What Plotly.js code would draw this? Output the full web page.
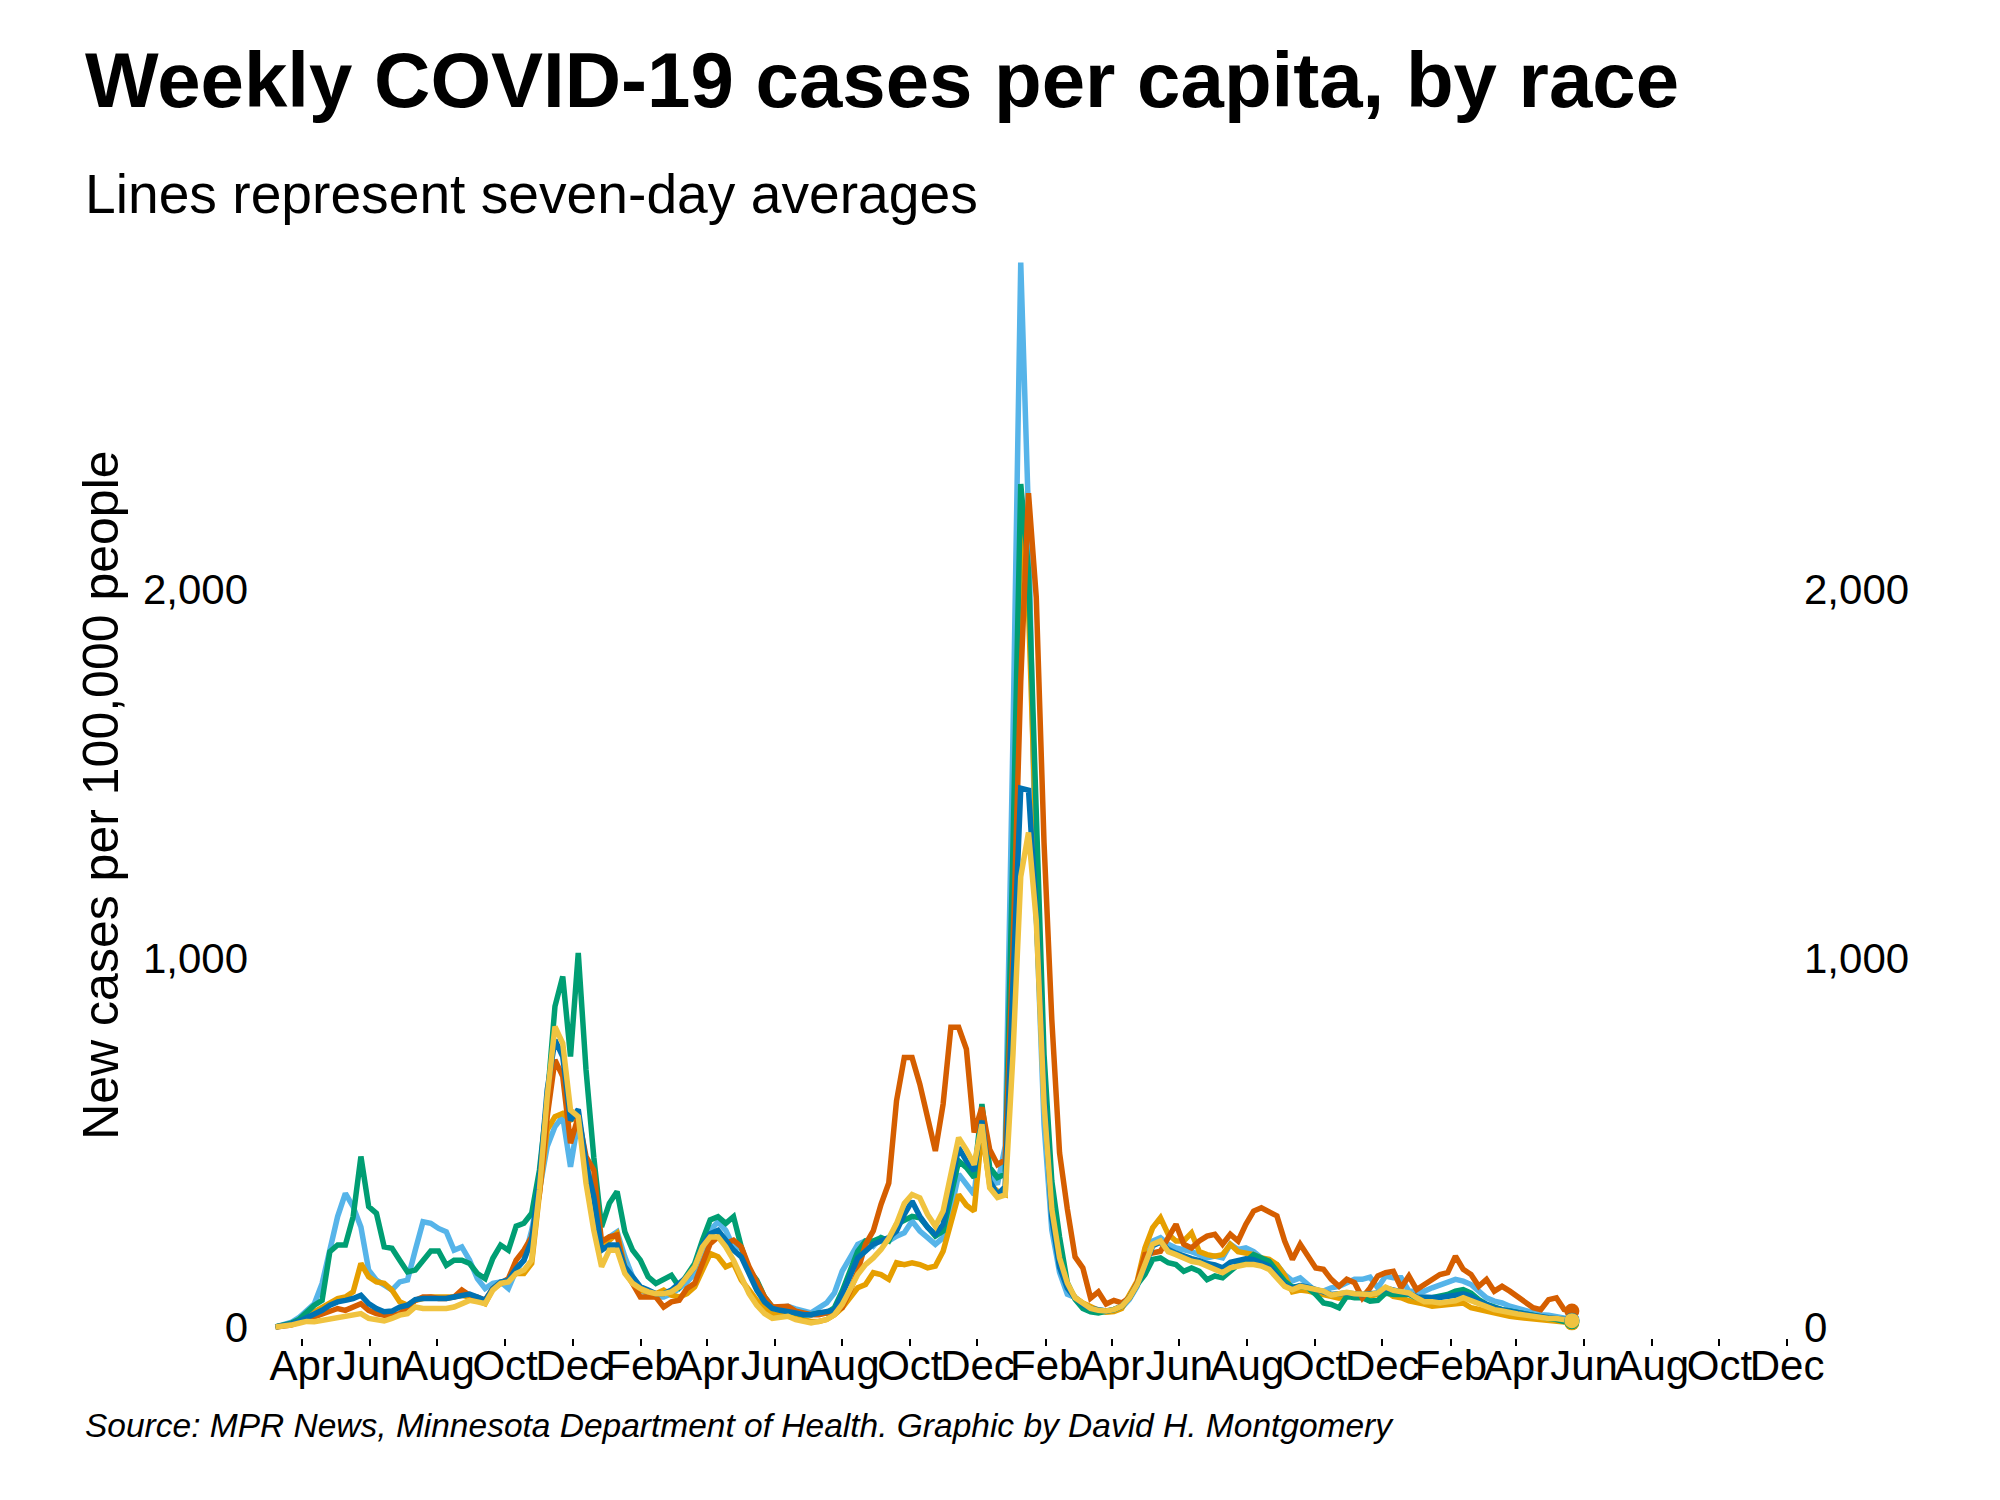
<!DOCTYPE html>
<html>
<head>
<meta charset="utf-8">
<script src="https://cdn.plot.ly/plotly-3.0.1.min.js"></script>
<style>
  html, body { margin: 0; padding: 0; background: #fff; }
  #chart { width: 2000px; height: 1500px; }
</style>
</head>
<body>
<div id="chart"></div>
<script>
// weekly points, first one on 2020-03-08
const startDate = Date.UTC(2020, 2, 8)

// new cases per 100,000 people, seven-day average
const skyBlue = [
  0, 5, 12, 25, 45, 63, 118, 208, 299, 362,
  326, 271, 154, 127, 113, 100, 122, 127, 208, 285,
  281, 267, 258, 208, 217, 181, 131, 104, 118, 122,
  104, 154, 181, 262, 371, 489, 543, 570, 434, 561,
  443, 353, 217, 244, 258, 190, 136, 100, 90, 81,
  81, 90, 104, 122, 145, 208, 262, 285, 262, 217,
  213, 154, 109, 72, 50, 52, 56, 49, 43, 38,
  52, 65, 92, 151, 187, 224, 233, 219, 242, 233,
  246, 255, 287, 260, 242, 224, 242, 314, 414, 386,
  359, 549, 423, 386, 490, 1600, 2885, 2200, 1120, 549,
  263, 148, 89, 80, 60, 48, 45, 43, 45, 52,
  75, 110, 169, 233, 242, 224, 214, 210, 204, 196,
  187, 192, 187, 224, 210, 214, 204, 187, 174, 169,
  142, 125, 133, 115, 97, 97, 106, 110, 120, 129,
  129, 135, 106, 138, 133, 133, 97, 97, 97, 106,
  115, 124, 129, 124, 115, 97, 79, 70, 65, 56,
  50, 43, 38, 33, 32, 29, 24, 20
]

const gold = [
  0, 3, 8, 18, 35, 41, 54, 68, 77, 81,
  95, 172, 136, 122, 118, 100, 68, 59, 72, 77,
  81, 81, 81, 81, 86, 81, 72, 63, 104, 118,
  127, 145, 145, 172, 362, 534, 570, 579, 561, 570,
  443, 353, 217, 235, 253, 163, 127, 100, 95, 90,
  100, 86, 81, 90, 109, 154, 199, 190, 163, 172,
  127, 100, 72, 54, 36, 34, 33, 24, 20, 15,
  15, 20, 33, 52, 79, 106, 115, 147, 142, 129,
  174, 169, 174, 169, 160, 165, 205, 278, 359, 330,
  314, 531, 386, 368, 359, 1100, 2150, 1950, 1300, 650,
  320, 170, 110, 80, 65, 55, 45, 40, 42, 50,
  90, 124, 214, 269, 296, 251, 233, 233, 255, 204,
  196, 192, 196, 224, 204, 200, 196, 187, 183, 169,
  140, 95, 100, 97, 92, 88, 80, 78, 83, 86,
  84, 84, 88, 97, 83, 79, 71, 68, 62, 56,
  59, 61, 64, 65, 52, 47, 43, 38, 32, 29,
  26, 24, 23, 20, 17, 15, 13, 11
]

const green = [
  0, 5, 10, 20, 40, 59, 72, 204, 222, 222,
  299, 462, 326, 308, 217, 213, 181, 149, 154, 181,
  206, 206, 167, 181, 181, 172, 145, 131, 186, 222,
  208, 273, 281, 308, 425, 615, 869, 950, 733, 1014,
  697, 460, 271, 335, 367, 258, 208, 181, 136, 118,
  131, 140, 109, 140, 172, 235, 290, 299, 281, 299,
  217, 154, 127, 81, 54, 48, 43, 38, 33, 33,
  38, 38, 52, 97, 151, 205, 233, 233, 242, 233,
  278, 287, 300, 296, 269, 246, 260, 350, 450, 432,
  405, 604, 432, 405, 414, 1300, 2285, 2050, 1407, 739,
  396, 244, 120, 75, 50, 41, 38, 43, 47, 56,
  79, 115, 142, 183, 187, 174, 169, 151, 160, 151,
  128, 138, 133, 151, 169, 178, 196, 187, 178, 151,
  124, 108, 110, 106, 88, 65, 61, 52, 83, 79,
  79, 70, 72, 92, 88, 88, 88, 79, 74, 79,
  83, 88, 97, 101, 92, 74, 61, 52, 47, 43,
  38, 35, 32, 26, 23, 20, 15, 14
]

const vermillion = [
  0, 2, 5, 12, 20, 27, 36, 45, 50, 45,
  54, 63, 45, 36, 32, 32, 36, 54, 72, 81,
  81, 77, 77, 81, 100, 86, 81, 72, 104, 118,
  131, 181, 208, 244, 362, 570, 724, 679, 498, 570,
  462, 425, 231, 244, 249, 154, 118, 81, 81, 81,
  54, 68, 72, 104, 118, 172, 226, 244, 226, 235,
  217, 163, 118, 81, 54, 55, 56, 43, 38, 33,
  33, 38, 43, 52, 97, 151, 224, 260, 332, 390,
  613, 730, 730, 658, 570, 477, 604, 812, 812, 753,
  527, 595, 481, 440, 453, 1025, 1750, 2260, 1978, 1312,
  834, 472, 320, 190, 160, 78, 95, 62, 72, 65,
  79, 120, 196, 201, 205, 242, 278, 224, 214, 233,
  246, 251, 224, 251, 233, 278, 314, 323, 310, 301,
  233, 183, 224, 192, 160, 156, 129, 110, 129, 120,
  79, 106, 138, 147, 151, 106, 138, 101, 115, 129,
  142, 147, 192, 156, 142, 110, 129, 97, 110, 97,
  83, 65, 52, 47, 74, 79, 47, 43
]

const blue = [
  0, 3, 8, 15, 25, 32, 45, 59, 68, 72,
  77, 86, 63, 50, 41, 43, 54, 59, 74, 77,
  77, 77, 77, 81, 86, 89, 81, 72, 104, 122,
  127, 158, 181, 235, 398, 643, 778, 733, 560, 590,
  443, 353, 208, 222, 222, 163, 136, 109, 100, 90,
  90, 100, 118, 136, 163, 222, 253, 262, 235, 208,
  190, 145, 100, 68, 50, 45, 43, 38, 33, 33,
  38, 40, 45, 88, 142, 187, 205, 224, 233, 242,
  260, 305, 341, 300, 270, 251, 278, 386, 486, 450,
  423, 559, 396, 359, 380, 930, 1460, 1455, 1120, 644,
  295, 162, 105, 79, 60, 50, 45, 43, 47, 56,
  79, 115, 165, 220, 230, 210, 200, 192, 185, 180,
  172, 168, 160, 175, 180, 185, 182, 172, 165, 140,
  115, 105, 112, 108, 100, 95, 88, 90, 92, 90,
  88, 90, 92, 105, 100, 98, 90, 82, 80, 80,
  80, 82, 86, 90, 84, 70, 60, 52, 47, 42,
  38, 35, 31, 27, 25, 23, 20, 18
]

const yellow = [
  0, 2, 5, 10, 15, 14, 18, 23, 27, 29,
  32, 36, 23, 18, 16, 23, 32, 36, 54, 50,
  50, 50, 50, 54, 63, 72, 68, 63, 100, 118,
  122, 145, 154, 181, 371, 624, 814, 769, 588, 570,
  389, 262, 163, 208, 208, 145, 118, 104, 95, 90,
  90, 95, 109, 136, 163, 217, 244, 244, 217, 181,
  136, 90, 59, 36, 23, 25, 29, 20, 15, 11,
  15, 20, 33, 61, 101, 142, 169, 187, 210, 240,
  280, 335, 359, 350, 305, 273, 314, 414, 513, 480,
  440, 549, 377, 351, 358, 739, 1220, 1340, 1101, 606,
  320, 187, 119, 79, 65, 50, 45, 43, 47, 56,
  79, 115, 169, 224, 233, 204, 196, 187, 178, 174,
  165, 160, 147, 160, 165, 169, 169, 165, 156, 133,
  110, 101, 110, 106, 101, 97, 86, 90, 94, 90,
  88, 88, 92, 108, 99, 97, 92, 79, 68, 68,
  65, 68, 71, 79, 71, 61, 53, 47, 43, 38,
  35, 32, 29, 24, 23, 23, 20, 17
]

const weeks = skyBlue.map((v, k) => new Date(startDate + k * 7 * 86400000).toISOString().slice(0, 10))

// drawing order: last one ends up on top
const series = [
  { name: 'sky blue', values: skyBlue, color: '#56B4E9' },
  { name: 'orange', values: gold, color: '#E69F00' },
  { name: 'green', values: green, color: '#009E73' },
  { name: 'vermillion', values: vermillion, color: '#D55E00' },
  { name: 'blue', values: blue, color: '#0072B2' },
  { name: 'yellow', values: yellow, color: '#F0C340' }
]

const lineTraces = series.map(s => ({
  type: 'scatter',
  mode: 'lines',
  name: s.name,
  x: weeks,
  y: s.values,
  line: { color: s.color, width: 5.5 }
}))

// dot on the latest week; these sit on the right-hand axis so it gets drawn
const lastIdx = weeks.length - 1
const dotTraces = series.map(s => ({
  type: 'scatter',
  mode: 'markers',
  name: s.name + ' latest',
  x: [weeks[lastIdx]],
  y: [s.values[lastIdx]],
  yaxis: 'y2',
  marker: { color: s.color, size: 15 }
}))

const fontFamily = '"Liberation Sans", Arial, sans-serif'
const yRange = [-30, 2911]

const layout = {
  width: 2000,
  height: 1500,
  margin: { l: 255, r: 198, t: 253, b: 162 },
  paper_bgcolor: '#fff',
  plot_bgcolor: '#fff',
  showlegend: false,
  font: { family: fontFamily, color: '#000', size: 42 },
  xaxis: {
    type: 'date',
    range: ['2020-02-18 12:00', '2023-12-14 12:00'],
    tick0: '2020-04-01',
    dtick: 'M2',
    tickformat: '%b',
    tickangle: 0,
    ticks: 'outside',
    ticklen: 7,
    tickwidth: 2,
    tickcolor: '#000',
    showgrid: false,
    zeroline: false,
    showline: false,
    tickfont: { size: 42 },
    ticklabelstandoff: -16
  },
  yaxis: {
    range: yRange,
    tickvals: [0, 1000, 2000],
    tickformat: ',',
    ticks: '',
    showgrid: false,
    zeroline: false,
    showline: false,
    tickfont: { size: 42 },
    ticklabelstandoff: 6
  },
  yaxis2: {
    overlaying: 'y',
    side: 'right',
    range: yRange,
    tickvals: [0, 1000, 2000],
    tickformat: ',',
    ticks: '',
    showgrid: false,
    zeroline: false,
    showline: false,
    tickfont: { size: 42 },
    ticklabelstandoff: 1
  },
  annotations: [
    {
      xref: 'paper', yref: 'paper', x: -0.1112, y: 1.1594,
      xanchor: 'left', yanchor: 'middle', showarrow: false,
      text: '<b>Weekly COVID-19 cases per capita, by race</b>',
      font: { size: 78, family: fontFamily }
    },
    {
      xref: 'paper', yref: 'paper', x: -0.1112, y: 1.0544,
      xanchor: 'left', yanchor: 'middle', showarrow: false,
      text: 'Lines represent seven-day averages',
      font: { size: 55.2, family: fontFamily }
    },
    {
      xref: 'paper', yref: 'paper', x: -0.1, y: 0.5,
      xanchor: 'center', yanchor: 'middle', showarrow: false,
      textangle: -90,
      text: 'New cases per 100,000 people',
      font: { size: 50, family: fontFamily }
    },
    {
      xref: 'paper', yref: 'paper', x: -0.1112, y: -0.0811,
      xanchor: 'left', yanchor: 'middle', showarrow: false,
      text: '<i>Source: MPR News, Minnesota Department of Health. Graphic by David H. Montgomery</i>',
      font: { size: 33.5, family: fontFamily }
    }
  ]
}

Plotly.newPlot('chart', lineTraces.concat(dotTraces), layout, { staticPlot: true })
</script>
</body>
</html>
